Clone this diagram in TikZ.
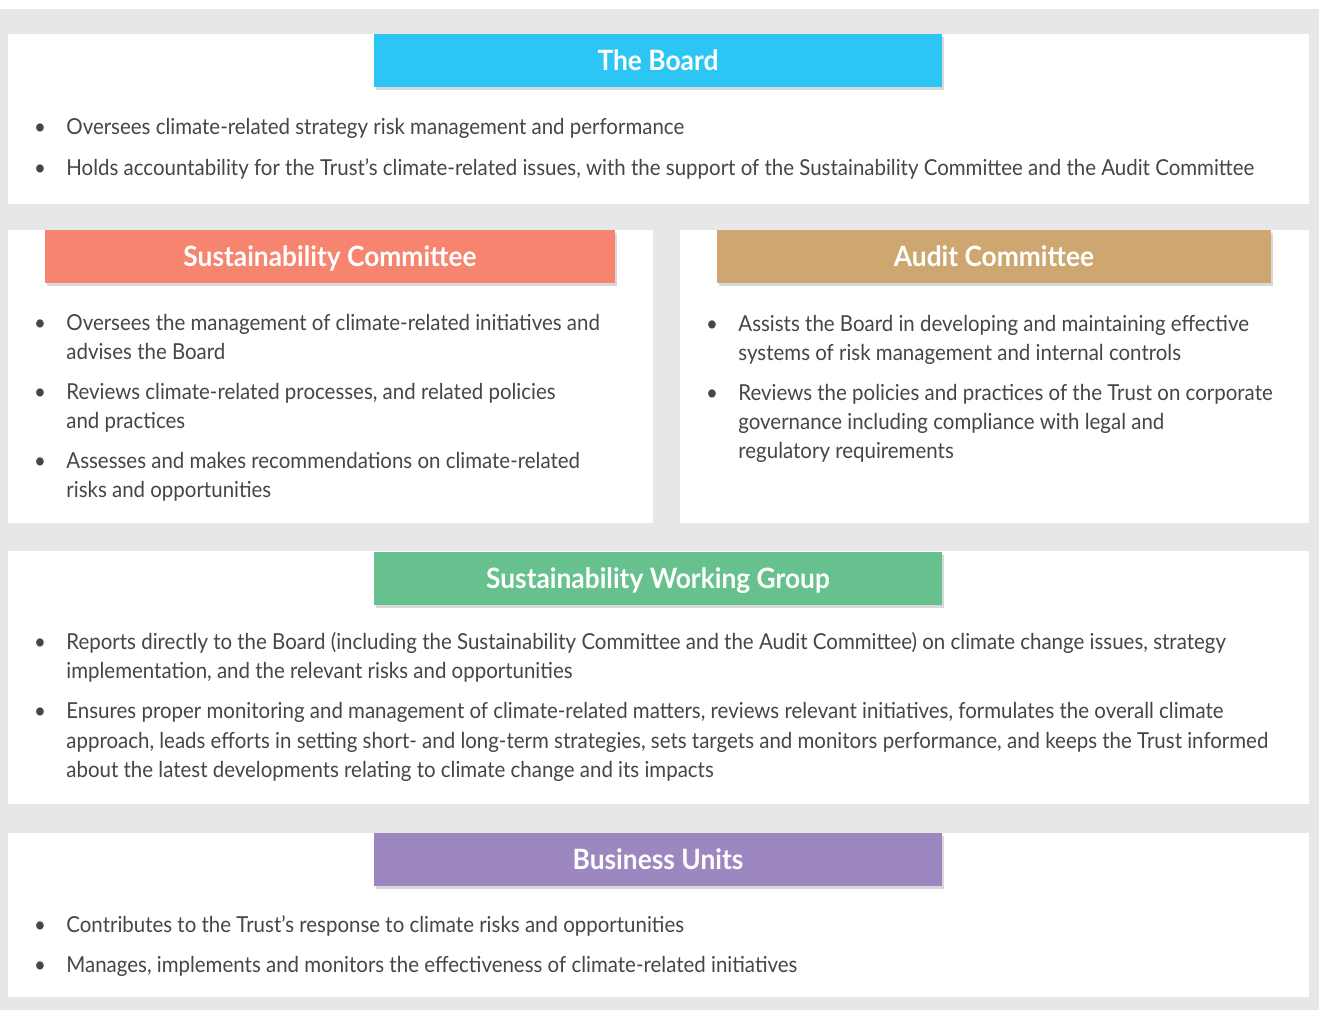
\documentclass[tikz,border=0pt]{standalone}
\usepackage{fontspec}
\setmainfont{Lato}[FakeStretch=0.93]
\newfontfamily\headfont{Lato}[FakeStretch=0.94]
\usetikzlibrary{shadows}

\definecolor{bggray}{HTML}{E6E7E8}
\definecolor{bodygray}{HTML}{45454A}
\definecolor{boardblue}{HTML}{2CC5F4}
\definecolor{sccoral}{HTML}{F6846F}
\definecolor{acgold}{HTML}{CDA76F}
\definecolor{swggreen}{HTML}{67C18E}
\definecolor{bupurple}{HTML}{9D87C0}

% lines of one bullet, set on the baseline of the first line
\newcommand{\itemtext}[1]{\begin{tabular}[t]{@{}l@{}}#1\end{tabular}}

\begin{document}
\begin{tikzpicture}[x=0.5pt,y=-0.5pt,
    panel/.style={fill=white},
    head/.style={minimum height=26.5pt,inner sep=0pt,text=white,
      text height=10pt,text depth=0pt,
      font=\headfont\bfseries\fontsize{14}{16}\selectfont,
      drop shadow={shadow xshift=1pt,shadow yshift=-1.5pt,opacity=.3}},
    item/.style={anchor=base west,inner sep=0pt,text=bodygray,
      font=\fontsize{11}{14.5}\selectfont},
    dot/.style={anchor=base,inner sep=0pt,text=bodygray,
      font=\fontsize{11}{14.5}\selectfont}]
      \useasboundingbox (0,0) rectangle (1319,1010);
      \fill[white] (0,0) rectangle (1319,9);
      \fill[bggray] (0,9) rectangle (1319,1010);

      % panels
      \fill[panel] (8,34) rectangle (1309,204);
      \fill[panel] (8,230) rectangle (653,523);
      \fill[panel] (680,230) rectangle (1309,523);
      \fill[panel] (8,551) rectangle (1309,804);
      \fill[panel] (8,833) rectangle (1309,997);

      % the board
      \node[head,fill=boardblue,minimum width=284pt] (board) at (658,60.5) {The Board};
      \node[dot] (board1d) at (40,135) {\textbullet};
      \node[item] (board1) at (66,135) {Oversees climate-related strategy risk management and performance};
      \node[dot] (board2d) at (40,176) {\textbullet};
      \node[item] (board2) at (66,176) {Holds accountability for the Trust’s climate-related issues, with the support of the Sustainability Committee and the Audit Committee};

      % sustainability committee
      \node[head,fill=sccoral,minimum width=285pt] (sc) at (330,256.5) {Sustainability Committee};
      \node[dot] (sc1d) at (40,331) {\textbullet};
      \node[item] (sc1) at (66,331) {\itemtext{Oversees the management of climate-related initiatives and\\advises the Board}};
      \node[dot] (sc2d) at (40,400) {\textbullet};
      \node[item] (sc2) at (66,400) {\itemtext{Reviews climate-related processes, and related policies\\and practices}};
      \node[dot] (sc3d) at (40,469) {\textbullet};
      \node[item] (sc3) at (66,469) {\itemtext{Assesses and makes recommendations on climate-related\\risks and opportunities}};

      % audit committee
      \node[head,fill=acgold,minimum width=277pt] (ac) at (994,256.5) {Audit Committee};
      \node[dot] (ac1d) at (712,332) {\textbullet};
      \node[item] (ac1) at (738,332) {\itemtext{Assists the Board in developing and maintaining effective\\systems of risk management and internal controls}};
      \node[dot] (ac2d) at (712,401) {\textbullet};
      \node[item] (ac2) at (738,401) {\itemtext{Reviews the policies and practices of the Trust on corporate\\governance including compliance with legal and\\regulatory requirements}};

      % sustainability working group
      \node[head,fill=swggreen,minimum width=284pt] (swg) at (658,578.5) {Sustainability Working Group};
      \node[dot] (swg1d) at (40,650) {\textbullet};
      \node[item] (swg1) at (66,650) {\itemtext{Reports directly to the Board (including the Sustainability Committee and the Audit Committee) on climate change issues, strategy\\implementation, and the relevant risks and opportunities}};
      \node[dot] (swg2d) at (40,719) {\textbullet};
      \node[item] (swg2) at (66,719) {\itemtext{Ensures proper monitoring and management of climate-related matters, reviews relevant initiatives, formulates the overall climate\\approach, leads efforts in setting short- and long-term strategies, sets targets and monitors performance, and keeps the Trust informed\\about the latest developments relating to climate change and its impacts}};

      % business units
      \node[head,fill=bupurple,minimum width=284pt] (bu) at (658,859.5) {Business Units};
      \node[dot] (bu1d) at (40,932) {\textbullet};
      \node[item] (bu1) at (66,932) {Contributes to the Trust’s response to climate risks and opportunities};
      \node[dot] (bu2d) at (40,972) {\textbullet};
      \node[item] (bu2) at (66,972) {Manages, implements and monitors the effectiveness of climate-related initiatives};
    \end{tikzpicture}
\end{document}
